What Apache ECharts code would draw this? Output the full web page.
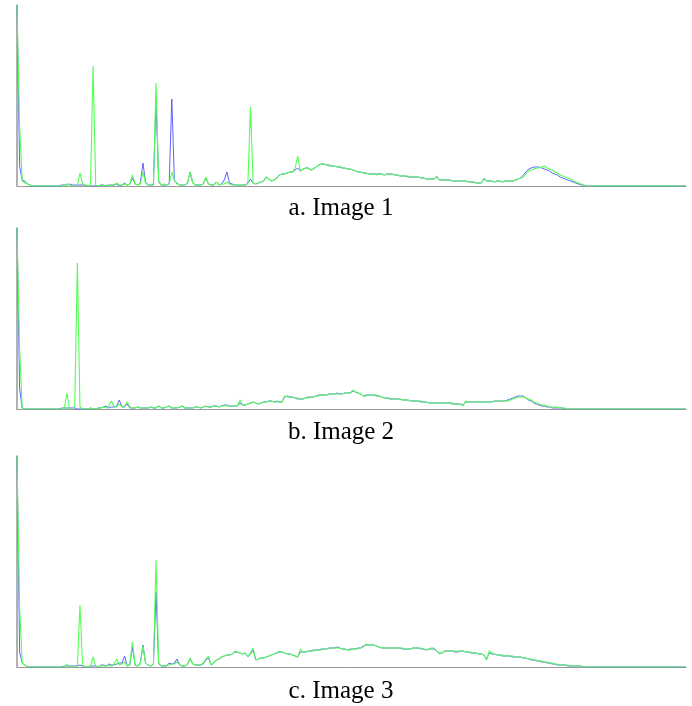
<!DOCTYPE html>
<html>
<head>
<meta charset="utf-8">
<script src="https://cdn.jsdelivr.net/npm/echarts@6/dist/echarts.min.js"></script>
<style>
  html, body { margin: 0; padding: 0; background: #fff; }
  #chart { width: 692px; height: 706px; }
</style>
</head>
<body>
<div id="chart"></div>
<script>
// histogram bins 0..255, counts in arbitrary units
const bins = Array.from({ length: 256 }, (_, i) => i)

const captions = ['a. Image 1', 'b. Image 2', 'c. Image 3']

const blue1 = [
  181,20,6,5,2,1,0,0,0,0,0,0,0,0,0,0,
  0,1,1,1,2,1,1,1,1,1,1,0,0,0,0,0,
  1,1,0,1,1,1,2,0,1,3,1,2,8,2,1,3,
  23,4,1,1,1,88,4,1,1,1,2,87,5,3,1,1,
  1,3,14,3,1,1,1,2,8,2,1,1,4,1,2,6,
  14,3,2,1,1,1,1,1,3,7,3,2,3,4,5,9,
  7,5,6,8,11,12,12,13,14,14,16,18,15,17,18,18,
  16,17,19,21,22,22,21,21,20,20,19,19,18,18,17,17,
  16,15,14,14,13,13,12,12,12,12,12,12,11,12,12,12,
  11,11,10,10,10,9,9,9,9,9,8,8,7,7,7,7,
  9,6,6,6,6,6,5,5,5,5,5,5,4,4,4,3,
  3,3,7,5,5,5,4,5,5,4,5,5,5,5,6,7,
  8,11,14,17,18,19,19,19,18,17,16,15,13,12,11,9,
  8,7,6,5,4,3,2,1,1,0,0,0,0,0,0,0,
  0,0,0,0,0,0,0,0,0,0,0,0,0,0,0,0,
  0,0,0,0,0,0,0,0,0,0,0,0,0,0,0,0
]
const green1 = [
  181,60,5,3,2,1,0,0,0,0,0,0,0,0,0,0,
  0,0,0,2,1,0,0,0,13,2,1,0,0,120,0,0,
  1,0,1,0,1,1,3,1,1,2,1,2,11,2,1,2,
  14,3,1,1,2,103,5,1,2,1,2,14,6,2,1,1,
  1,3,14,3,1,1,1,2,9,2,1,1,4,1,2,2,
  4,2,1,1,1,1,1,1,2,79,3,2,3,4,5,9,
  7,5,6,8,11,12,12,13,14,14,18,30,15,17,18,18,
  16,17,19,21,22,22,21,20,20,20,19,20,18,18,17,17,
  16,15,14,14,13,13,12,12,12,11,12,12,11,12,12,12,
  11,11,10,10,10,10,9,9,9,9,8,8,7,7,7,7,
  10,6,6,6,6,6,5,5,5,5,5,5,4,4,4,3,
  3,3,8,5,5,5,4,5,5,4,5,5,5,5,6,7,
  8,9,12,15,16,17,18,18,19,20,18,17,16,14,13,11,
  10,9,8,7,5,4,3,2,1,0,0,0,0,0,0,0,
  0,0,0,0,0,0,0,0,0,0,0,0,0,0,0,0,
  0,0,0,0,0,0,0,0,0,0,0,0,0,0,0,0
]

const blue2 = [
  181,20,1,0,0,0,0,0,0,0,0,0,0,0,0,0,
  0,1,1,1,1,1,1,0,0,0,0,0,1,0,0,1,
  1,2,3,1,2,2,3,9,2,2,5,1,1,1,2,1,
  1,1,1,2,1,1,3,1,1,2,3,1,1,1,2,3,
  1,1,1,1,2,2,1,2,3,2,2,3,3,2,3,4,
  4,3,3,3,3,6,4,4,5,6,7,6,5,6,7,7,
  8,8,7,8,7,7,12,13,12,12,11,10,10,10,11,12,
  12,12,13,14,14,14,14,15,15,15,16,15,15,16,16,16,
  18,17,16,15,13,14,14,14,14,13,13,12,11,11,10,10,
  10,10,10,9,9,9,8,8,8,8,7,7,7,6,6,6,
  6,6,6,6,6,6,5,5,5,5,4,7,7,7,7,7,
  7,7,7,7,7,7,8,8,8,8,8,9,10,11,12,13,
  13,13,11,9,8,6,5,4,3,3,2,2,1,1,1,1,
  1,0,0,0,0,0,0,0,0,0,0,0,0,0,0,0,
  0,0,0,0,0,0,0,0,0,0,0,0,0,0,0,0,
  0,0,0,0,0,0,0,0,0,0,0,0,0,0,0,0
]
const green2 = [
  181,60,1,0,0,0,0,0,0,0,0,0,0,0,0,0,
  0,0,0,16,0,0,3,146,2,0,0,0,1,0,0,1,
  1,2,1,3,8,2,2,5,2,3,7,2,1,1,2,1,
  1,1,1,2,1,1,3,1,1,2,3,1,1,1,2,3,
  1,1,1,1,2,2,1,2,3,2,2,3,3,2,3,3,
  3,3,3,3,3,9,4,4,5,6,7,6,5,6,7,7,
  8,8,7,7,7,7,13,12,12,12,11,11,10,10,11,11,
  12,12,13,13,14,14,14,15,15,15,15,15,15,16,16,16,
  19,17,16,15,13,13,14,14,14,14,13,12,11,11,11,10,
  10,10,10,9,9,9,8,8,8,8,8,7,7,6,6,6,
  6,6,6,6,6,6,6,5,5,5,3,8,7,7,7,7,
  7,7,7,7,7,7,8,8,8,8,8,8,9,10,11,12,
  12,12,11,10,9,7,6,5,4,4,3,2,2,2,2,1,
  1,1,0,0,0,0,0,0,0,0,0,0,0,0,0,0,
  0,0,0,0,0,0,0,0,0,0,0,0,0,0,0,0,
  0,0,0,0,0,0,0,0,0,0,0,0,0,0,0,0
]

const blue3 = [
  211,15,4,2,0,0,0,0,0,0,0,0,0,0,0,0,
  0,0,1,1,1,1,1,1,2,1,0,0,1,1,1,0,
  2,2,1,3,2,2,3,4,4,11,1,2,20,2,1,4,
  22,4,2,1,3,75,3,1,1,1,4,3,4,8,2,1,
  1,3,8,3,2,2,2,3,7,9,2,4,7,8,10,11,
  12,12,13,15,15,14,13,14,10,13,17,7,8,9,9,10,
  11,12,13,14,15,15,14,13,13,12,11,10,15,15,15,16,
  16,17,17,17,18,18,18,19,19,19,20,19,18,18,17,18,
  18,18,19,19,21,22,22,22,22,21,20,19,19,19,19,19,
  19,19,19,18,18,18,18,19,19,19,18,18,17,18,18,18,
  16,14,14,16,16,16,16,15,15,16,16,15,15,14,14,14,
  13,13,12,8,14,13,13,12,12,11,11,11,11,10,10,10,
  10,9,9,8,7,7,6,6,5,5,4,4,3,3,2,2,
  2,2,1,1,1,1,1,1,0,0,0,0,0,0,0,0,
  0,0,0,0,0,0,0,0,0,0,0,0,0,0,0,0,
  0,0,0,0,0,0,0,0,0,0,0,0,0,0,0,0
]
const green3 = [
  211,60,4,2,0,0,0,0,0,0,0,0,0,0,0,0,
  0,0,0,3,0,0,1,0,62,2,0,0,1,10,1,0,
  1,1,1,2,1,3,8,2,3,5,1,3,25,2,1,3,
  21,4,2,1,3,107,4,1,1,1,2,3,3,5,2,1,
  1,3,9,3,2,2,2,4,8,11,2,4,7,8,10,11,
  12,12,13,16,15,14,13,14,10,14,19,7,8,9,9,10,
  11,12,13,14,16,15,14,13,13,12,11,10,18,15,15,16,
  16,16,17,17,17,18,18,19,19,19,19,19,18,18,17,17,
  18,18,18,19,20,23,22,22,22,21,20,19,19,19,19,19,
  19,19,19,19,18,18,18,19,19,19,19,18,17,18,19,19,
  16,13,14,16,16,16,16,16,16,16,16,15,15,15,14,14,
  13,13,12,7,16,14,13,12,12,12,11,11,11,11,10,10,
  10,9,9,8,8,7,7,6,6,5,5,4,4,3,3,2,
  2,2,2,1,1,1,1,1,0,0,0,0,0,0,0,0,
  0,0,0,0,0,0,0,0,0,0,0,0,0,0,0,0,
  0,0,0,0,0,0,0,0,0,0,0,0,0,0,0,0
]

const panels = [
  { top: 5, height: 181, max: 181, blue: blue1, green: green1, capTop: 196 },
  { top: 228, height: 181, max: 181, blue: blue2, green: green2, capTop: 420 },
  { top: 456, height: 211, max: 211, blue: blue3, green: green3, capTop: 679 }
]

const chart = echarts.init(document.getElementById('chart'))

const series = []
panels.forEach((p, i) => {
  series.push({
    type: 'line',
    xAxisIndex: i,
    yAxisIndex: i,
    data: p.blue,
    showSymbol: false,
    z: 2,
    lineStyle: { color: '#4646ff', width: 1, opacity: 0.85 }
  })
  series.push({
    type: 'line',
    xAxisIndex: i,
    yAxisIndex: i,
    data: p.green,
    showSymbol: false,
    z: 3,
    lineStyle: { color: '#52ff52', width: 1.1 }
  })
})

chart.setOption({
  animation: false,
  title: panels.map((p, i) => ({
    text: captions[i],
    left: 341,
    top: p.capTop,
    textAlign: 'center',
    padding: 0,
    textStyle: {
      fontFamily: 'Liberation Serif',
      fontSize: 25,
      fontWeight: 'normal',
      color: '#000'
    }
  })),
  grid: panels.map(p => ({ left: 17, right: 6, top: p.top, height: p.height })),
  xAxis: panels.map((p, i) => ({
    type: 'category',
    gridIndex: i,
    data: bins,
    boundaryGap: false,
    axisLine: { lineStyle: { color: '#999', width: 1 } },
    axisTick: { show: false },
    axisLabel: { show: false },
    splitLine: { show: false }
  })),
  yAxis: panels.map((p, i) => ({
    type: 'value',
    gridIndex: i,
    min: 0,
    max: p.max,
    axisLine: { show: true, lineStyle: { color: '#999', width: 1.5 } },
    axisTick: { show: false },
    axisLabel: { show: false },
    splitLine: { show: false }
  })),
  series: series
})
</script>
</body>
</html>
